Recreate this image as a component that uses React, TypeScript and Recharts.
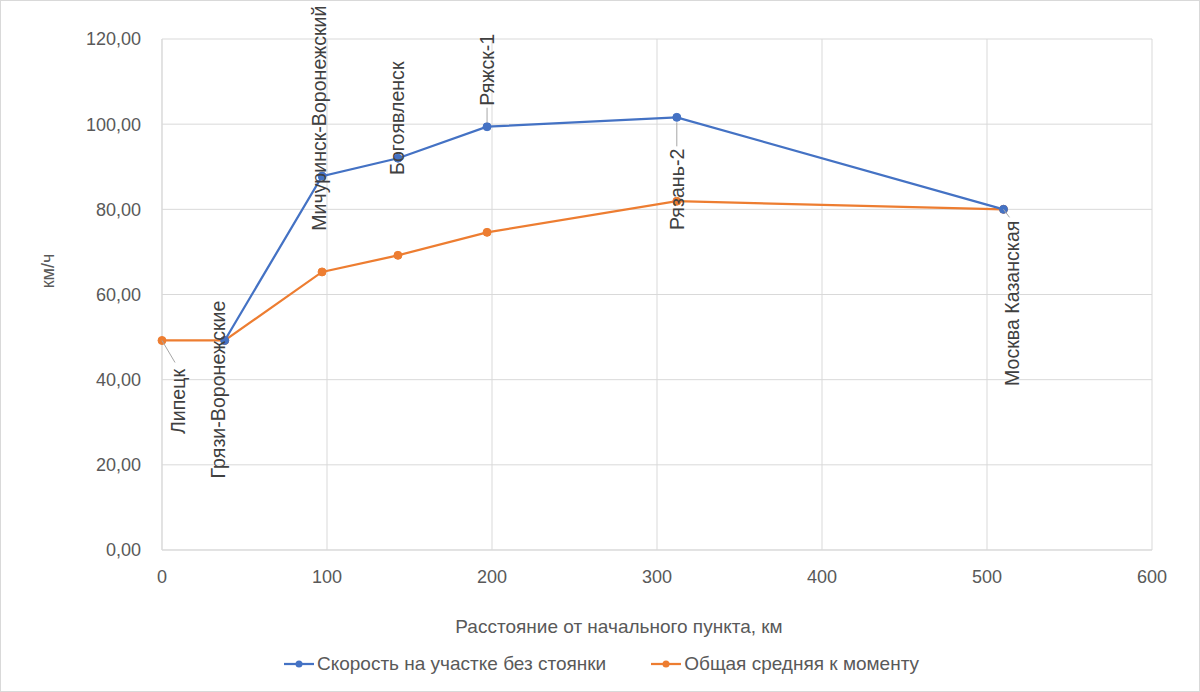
import React from 'react';
import { LineChart, Line, XAxis, YAxis, CartesianGrid, Legend, Label, LabelList } from 'recharts';

// станции и расстояния от Липецка
const stations = [
  'Липецк',
  'Грязи-Воронежские',
  'Мичуринск-Воронежский',
  'Богоявленск',
  'Ряжск-1',
  'Рязань-2',
  'Москва Казанская',
];
const distanceKm = [0, 38, 97, 143, 197, 312, 510];
const sectionSpeed: (number | null)[] = [null, 49.2, 87.8, 92.0, 99.4, 101.6, 80.0];
const averageSpeed = [49.2, 49.2, 65.3, 69.2, 74.6, 81.9, 80.0];

const xTicks = [0, 100, 200, 300, 400, 500, 600];
const yTicks = [0, 20, 40, 60, 80, 100, 120];

const BLUE = '#4472C4';
const ORANGE = '#ED7D31';
const FONT = '"Liberation Sans", Arial, sans-serif';

const sectionData = distanceKm
  .map((km, i) => ({ km, speed: sectionSpeed[i], name: stations[i] }))
  .filter((d) => d.speed != null);
const averageData = distanceKm.map((km, i) => ({ km, speed: averageSpeed[i], name: stations[i] }));

// where each station label sits, relative to its point (px)
const labelPlacement: Record<string, { series: string; dx: number; dy: number; leader?: number[] }> = {
  'Липецк': { series: 'avg', dx: 16, dy: 61, leader: [0, 0, 13, 22] },
  'Грязи-Воронежские': { series: 'section', dx: -7, dy: 49 },
  'Мичуринск-Воронежский': { series: 'section', dx: -3, dy: -58 },
  'Богоявленск': { series: 'section', dx: -1, dy: -40 },
  'Ряжск-1': { series: 'section', dx: 0, dy: -57, leader: [0, -4, 0, -19] },
  'Рязань-2': { series: 'section', dx: 0, dy: 72, leader: [0, 5, 0, 29] },
  'Москва Казанская': { series: 'section', dx: 9, dy: 94, leader: [0, 0, 6, 8] },
};

const stationLabel = (series: string) => (props: any) => {
  const { x, y, value } = props;
  const pl = labelPlacement[value];
  if (!pl || pl.series !== series) return null;
  const cx = x + pl.dx;
  const cy = y + pl.dy;
  return (
    <g>
      {pl.leader && (
        <line
          x1={x + pl.leader[0]}
          y1={y + pl.leader[1]}
          x2={x + pl.leader[2]}
          y2={y + pl.leader[3]}
          stroke="#a6a6a6"
          strokeWidth={1}
        />
      )}
      <text
        x={cx}
        y={cy}
        transform={`rotate(-90 ${cx} ${cy})`}
        textAnchor="middle"
        dominantBaseline="central"
        fontSize={19.6}
        fontFamily={FONT}
        fill="#404040"
      >
        {value}
      </text>
    </g>
  );
};

const legendItems = [
  { label: 'Скорость на участке без стоянки', color: BLUE },
  { label: 'Общая средняя к моменту', color: ORANGE },
];

const renderLegend = () => (
  <div
    style={{
      display: 'flex',
      justifyContent: 'center',
      alignItems: 'center',
      gap: 45,
      height: 30,
      paddingLeft: 50,
      fontSize: 19,
      fontFamily: FONT,
      color: '#595959',
    }}
  >
    {legendItems.map((it) => (
      <span key={it.label} style={{ display: 'flex', alignItems: 'center' }}>
        <svg width={30} height={10}>
          <line x1={0} y1={5} x2={30} y2={5} stroke={it.color} strokeWidth={2.25} />
          <circle cx={15} cy={5} r={3.5} fill={it.color} />
        </svg>
        <span style={{ marginLeft: 3 }}>{it.label}</span>
      </span>
    ))}
  </div>
);

const fmt = (v: number) => v.toFixed(2).replace('.', ',');

export default function App() {
  return (
    <div
      style={{
        position: 'absolute',
        left: 0,
        top: 0,
        width: 1200,
        height: 692,
        background: '#fff',
        boxSizing: 'border-box',
        border: '1px solid #d9d9d9',
      }}
    >
      <LineChart width={1198} height={690} margin={{ top: 38, right: 47, left: 0, bottom: 12 }}>
        <CartesianGrid stroke="#d9d9d9" strokeWidth={1} />
        <XAxis
          type="number"
          dataKey="km"
          domain={[0, 600]}
          ticks={xTicks}
          axisLine={{ stroke: '#d9d9d9' }}
          tickLine={false}
          tickMargin={14}
          height={99}
          tick={{ fill: '#595959', fontSize: 18, fontFamily: FONT }}
        >
          <Label
            content={() => (
              <text x={618} y={625} textAnchor="middle" dominantBaseline="central" fontSize={19} fontFamily={FONT} fill="#595959">
                Расстояние от начального пункта, км
              </text>
            )}
          />
        </XAxis>
        <YAxis
          type="number"
          domain={[0, 120]}
          ticks={yTicks}
          width={161}
          axisLine={{ stroke: '#d9d9d9' }}
          tickLine={false}
          tickMargin={15}
          tickFormatter={fmt}
          tick={{ fill: '#595959', fontSize: 18, fontFamily: FONT }}
        >
          <Label
            content={() => (
              <text x={47} y={270} transform="rotate(-90 47 270)" textAnchor="middle" dominantBaseline="central" fontSize={18} fontFamily={FONT} fill="#595959">
                км/ч
              </text>
            )}
          />
        </YAxis>
        <Legend verticalAlign="bottom" content={renderLegend} />
        <Line
          data={averageData}
          dataKey="speed"
          name="Общая средняя к моменту"
          stroke={ORANGE}
          strokeWidth={2.25}
          dot={{ r: 4, fill: ORANGE, stroke: ORANGE, strokeWidth: 1 }}
          isAnimationActive={false}
        >
          <LabelList dataKey="name" content={stationLabel('avg')} />
        </Line>
        <Line
          data={sectionData}
          dataKey="speed"
          name="Скорость на участке без стоянки"
          stroke={BLUE}
          strokeWidth={2.25}
          dot={{ r: 4, fill: BLUE, stroke: BLUE, strokeWidth: 1 }}
          isAnimationActive={false}
        >
          <LabelList dataKey="name" content={stationLabel('section')} />
        </Line>
      </LineChart>
    </div>
  );
}
